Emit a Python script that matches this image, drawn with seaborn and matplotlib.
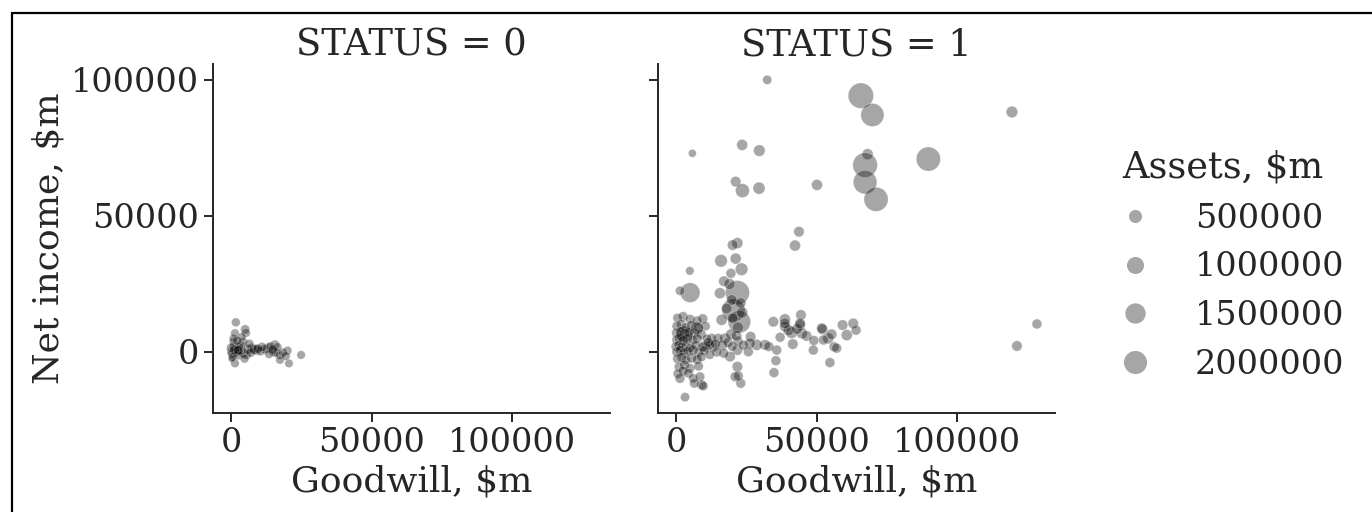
import numpy as np
import pandas as pd
import seaborn as sns
import matplotlib.pyplot as plt
from matplotlib.lines import Line2D

# ---------------- data ----------------
# STATUS = 0
s0_goodwill = [1700, 1400, 5000, 5300, 800, 4300, 200, 2000, 3200, 1400, 5600, 9100, 7400,
               13300, 15600, 15000, 17400, 17400, 20100, 20600, 24900,
               0, 500, 1000, 2500, 3500, 4500, 6000, 600, 2800, 7000, 8200, 10500, 12000,
               14000, 16000, 18500, 3800, 900, 2200, 6500, 11000, 13500, 4800, 300, 16500, 19500,
               1200, 2600, 9500, 14800]
s0_income = [10900, 6900, 8300, 7000, 3800, 3800, 100, 100, 700, -4200, -1100, 700, 1400,
             1400, 2600, 100, -1100, -2900, 500, -4200, -1100,
             1500, -500, 2000, -1000, 2500, -500, 1000, -1800, 1800, -200, 900, 300, 1000,
             2000, -300, -200, 5500, 5000, 4200, 3000, 1800, -800, -2500, -2500, 1800, -1500,
             800, 600, 1200, 900]
s0_assets = [120000, 100000, 150000, 120000, 90000, 110000, 150000, 200000, 250000, 100000, 120000, 220000, 180000,
             200000, 180000, 150000, 120000, 100000, 110000, 90000, 100000,
             150000, 200000, 180000, 220000, 160000, 200000, 180000, 120000, 150000, 160000, 200000, 140000, 160000,
             150000, 130000, 120000, 100000, 110000, 120000, 130000, 150000, 110000, 100000, 20000, 120000, 100000,
             200000, 180000, 150000, 170000]

# STATUS = 1
s1_goodwill = [32400, 65700, 69800, 119400, 5800, 23500, 29600, 68100, 67200, 89700, 67200, 71100,
               21200, 23600, 29500, 50100, 43700, 42300, 21800, 20100, 16000, 21200, 23300, 19500,
               4900, 5000, 1400, 15600, 21800, 20400, 22500, 19800, 20100, 16200, 128300, 121200,
               34600, 38700, 44400, 38700, 41100, 44100, 44700, 37000, 41500, 46400, 49000, 48800,
               52100, 54100, 56200, 54700, 59200, 60700, 35800, 35500, 34800, 31600, 28700, 26500,
               26300, 25700, 21800, 21800, 21000, 23000, 22100, 19200, 17400, 15000, 12700, 13300,
               10300, 63000, 64000, 40000, 33000, 43000, 38700, 44100, 51800, 52400, 55300, 57100,
               # dense cluster near the origin
               500, 2500, 5000, 7500, 9500,
               300, 1800, 3500, 5500, 8000, 10500,
               200, 1500, 3000, 4500, 6500, 9000,
               400, 1200, 2500, 4000, 6000, 7500, 11000,
               0, 1000, 2000, 3500, 5000, 7000, 9500, 12000,
               300, 1500, 2800, 4200, 6000, 8000, 10000,
               500, 2000, 3500, 5500, 7500, 9000,
               1000, 3000, 5000, 8000,
               600, 2500, 1400, 4400, 6100, 8500, 9100, 9700, 3200, 6500, 3000, 7400,
               # bridge and column
               11500, 14000, 16500, 18500, 20000, 22000, 19500, 17000, 14500, 12000,
               18000, 22000, 21500, 23500, 24000, 17000, 19000, 23000]
s1_income = [100000, 94200, 87100, 88200, 73000, 76100, 74000, 72700, 68700, 70900, 62400, 56100,
             62600, 59300, 60200, 61400, 44200, 39100, 40000, 39300, 33500, 34300, 30400, 28900,
             29800, 21800, 22500, 21600, 21800, 15400, 11100, 19100, 12400, 11800, 10300, 2200,
             11100, 12000, 13600, 9300, 7100, 9900, 6900, 5400, 2900, 5900, 4200, 700,
             8300, 5000, 1900, -3900, 9900, 6200, 700, -3200, -7600, 2600, 2600, 5600,
             3200, 100, 700, -5400, -9100, -11500, -8800, -1700, 5000, 5000, 5000, 1900,
             1900, 10500, 8000, 8000, 2000, 8500, 10500, 10500, 8700, 4400, 6500, 1400,
             12500, 13000, 12000, 11500, 12200,
             9500, 10000, 9000, 9800, 9000, 9500,
             7000, 7500, 6800, 7200, 7000, 6500,
             4500, 5000, 4200, 4800, 4300, 5000, 4800,
             2000, 2500, 1800, 2200, 1500, 2400, 2000, 2500,
             0, 500, -300, 300, 800, -200, 600,
             -2500, -2000, -3000, -2200, -2800, -1800,
             -5500, -4800, -6000, -5200,
             -8000, -7000, -9700, -7800, -9700, -9100, -12100, -12500, -16600, -11500, 6500, 8700,
             3500, 3000, 2500, 3500, 2000, 4000, 6500, -500, 0, -1000,
             16000, 9000, 6000, 14500, 2500, 26000, 25000, 18000]
s1_assets = [150000, 2450000, 2000000, 350000, 60000, 300000, 350000, 300000, 2300000, 2200000, 2100000, 2200000,
             250000, 600000, 400000, 300000, 250000, 300000, 300000, 250000, 450000, 300000, 450000, 200000,
             100000, 1400000, 150000, 300000, 2200000, 2000000, 1900000, 250000, 250000, 300000, 200000, 250000,
             250000, 300000, 250000, 250000, 350000, 250000, 300000, 200000, 250000, 250000, 200000, 200000,
             250000, 300000, 200000, 200000, 250000, 300000, 200000, 200000, 200000, 250000, 300000, 250000,
             250000, 200000, 250000, 250000, 200000, 200000, 200000, 250000, 250000, 200000, 200000, 250000,
             250000, 250000, 200000, 300000, 200000, 250000, 250000, 250000, 250000, 200000, 250000, 200000,
             150000, 200000, 180000, 150000, 200000,
             180000, 220000, 150000, 200000, 160000, 150000,
             200000, 180000, 220000, 150000, 200000, 180000,
             250000, 200000, 180000, 220000, 150000, 200000, 160000,
             200000, 180000, 220000, 200000, 150000, 180000, 200000, 160000,
             200000, 220000, 180000, 150000, 200000, 160000, 180000,
             180000, 200000, 150000, 220000, 160000, 180000,
             150000, 200000, 160000, 180000,
             150000, 180000, 200000, 160000, 150000, 180000, 200000, 160000, 150000, 180000, 1000000, 500000,
             200000, 180000, 220000, 200000, 160000, 200000, 250000, 180000, 200000, 160000,
             250000, 300000, 250000, 300000, 200000, 250000, 300000, 250000]

df = pd.DataFrame({
    "Goodwill, $m": s0_goodwill + s1_goodwill,
    "Net income, $m": s0_income + s1_income,
    "Assets, $m": s0_assets + s1_assets,
    "STATUS": [0] * len(s0_goodwill) + [1] * len(s1_goodwill),
})

# ---------------- style ----------------
sns.set_theme(style="ticks")
plt.rcParams.update({
    "font.family": ["DejaVu Serif"],
    "xtick.labelsize": 24,
    "ytick.labelsize": 24,
    "axes.labelsize": 26,
    "axes.titlesize": 26.5,
    "legend.fontsize": 24,
    "legend.title_fontsize": 26.5,
    "axes.linewidth": 1.4,
    "xtick.major.width": 1.4,
    "ytick.major.width": 1.4,
    "xtick.major.size": 6.5,
    "ytick.major.size": 6.5,
    "text.color": "#262626",
    "axes.labelcolor": "#262626",
    "xtick.color": "#262626",
    "ytick.color": "#262626",
})

g = sns.relplot(data=df, x="Goodwill, $m", y="Net income, $m", size="Assets, $m",
                col="STATUS", sizes=(25, 340), size_norm=(0, 2500000),
                color="black", alpha=0.35, height=4, aspect=1)

fig = g.figure
fig.set_size_inches(13.72, 5.12)
W, H = 1372, 512
for ax, left in zip(g.axes.flat, [213, 658]):
    ax.set_position([left / W, (H - 413) / H, 397 / W, 349 / H])
    ax.set_xticks([0, 50000, 100000])
    ax.set_yticks([0, 50000, 100000])
g.set_titles("STATUS = {col_name}", size=26.5)

sns.move_legend(g, "center left", bbox_to_anchor=(0.781, 0.482), frameon=False)

# outer frame line (partially cropped in the reference)
fig.add_artist(Line2D([12 / W, 12 / W], [0, 1 - 13 / H], transform=fig.transFigure,
                      color="black", lw=1.6))
fig.add_artist(Line2D([12 / W, 1], [1 - 13 / H, 1 - 13 / H], transform=fig.transFigure,
                      color="black", lw=1.6))

fig.savefig("out.png", dpi=100)
